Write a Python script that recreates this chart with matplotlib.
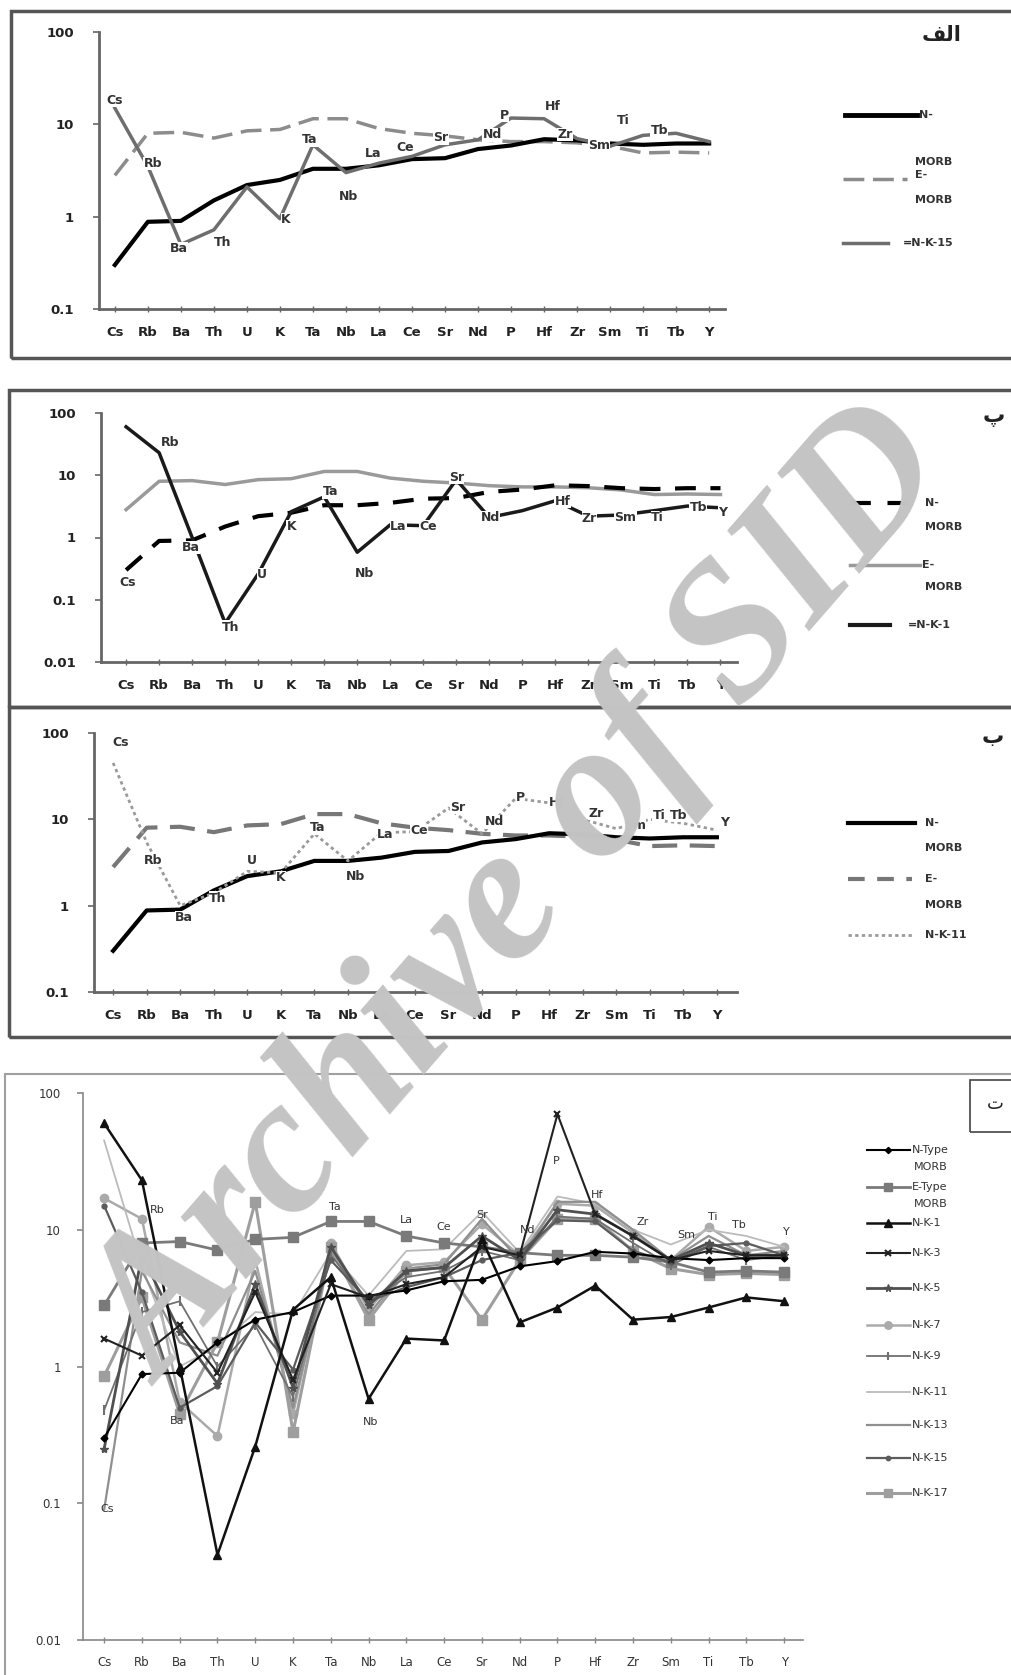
import matplotlib
matplotlib.use('Agg')
import matplotlib.pyplot as plt
import matplotlib.ticker as mticker
from matplotlib.lines import Line2D
from matplotlib.patches import Rectangle
import numpy as np

W, H = 1011, 1675

elements = ['Cs', 'Rb', 'Ba', 'Th', 'U', 'K', 'Ta', 'Nb', 'La', 'Ce',
            'Sr', 'Nd', 'P', 'Hf', 'Zr', 'Sm', 'Ti', 'Tb', 'Y']

# reference basalts
n_morb = [0.30, 0.88, 0.90, 1.5, 2.2, 2.5, 3.3, 3.3, 3.6, 4.2,
          4.3, 5.4, 5.9, 6.9, 6.7, 6.2, 6.0, 6.2, 6.2]
e_morb = [2.8, 8.0, 8.2, 7.1, 8.5, 8.8, 11.5, 11.5, 9.0, 8.0,
          7.5, 6.8, 6.5, 6.5, 6.3, 5.8, 4.9, 5.0, 4.9]

# samples
nk1 = [60, 23, 1.0, 0.042, 0.26, 2.6, 4.5, 0.58, 1.6, 1.55,
       8.5, 2.1, 2.7, 3.9, 2.2, 2.3, 2.7, 3.2, 3.0]
nk3 = [1.6, 1.2, 2.0, 0.9, 3.5, 0.8, 4.0, 3.2, 4.0, 4.5,
       7.5, 6.5, 70, 13, 9.0, 6.0, 7.0, 6.5, 6.5]
nk5 = [0.25, 6.5, 1.8, 0.75, 4.0, 0.7, 7.5, 2.8, 5.0, 5.3,
       9.0, 6.0, 14, 13, 9.0, 6.0, 8.0, 6.5, 6.5]
nk7 = [17, 12, 0.55, 0.31, 6.0, 0.45, 8.0, 2.6, 5.5, 5.8,
       11, 6.5, 15.5, 15, 9.5, 6.0, 10.5, 7.0, 7.5]
nk9 = [0.48, 2.5, 3.0, 1.0, 2.0, 0.6, 6.5, 3.0, 4.5, 5.0,
       7.0, 6.0, 12.5, 12, 8.0, 5.5, 7.5, 6.0, 6.5]
nk11 = [45, 5.4, 1.0, 1.4, 2.5, 2.4, 6.8, 3.3, 7.0, 7.2,
        13.5, 6.8, 17.5, 15.5, 10.0, 7.8, 10.0, 9.0, 7.5]
nk13 = [0.09, 5.0, 1.5, 1.2, 5.0, 0.5, 7.0, 2.4, 5.2, 5.6,
        12, 6.0, 16, 16, 10, 6.0, 9.0, 6.5, 7.0]
nk15 = [15, 3.5, 0.5, 0.72, 2.1, 0.95, 6.0, 3.0, 3.8, 4.5,
        6.0, 6.8, 11.7, 11.5, 7.0, 5.8, 7.6, 8.0, 6.5]
nk17 = [0.85, 3.2, 0.45, 1.5, 16, 0.33, 7.5, 2.2, 5.0, 5.3,
        2.2, 6.0, 12, 12, 7.0, 5.2, 4.7, 4.8, 4.7]

x = np.arange(len(elements))

fig = plt.figure(figsize=(W / 100, H / 100), dpi=100)


def fx(px):
    return px / W


def fy(py):
    return 1 - py / H


def make_axes(left, top, right, bottom, xlim, ylim, yticks, ylabels,
              font, axis_color, axis_lw, xpad, ypad):
    ax = fig.add_axes([fx(left), fy(bottom), (right - left) / W, (bottom - top) / H])
    ax.patch.set_alpha(0)
    ax.set_yscale('log')
    ax.set_xlim(*xlim)
    ax.set_ylim(*ylim)
    ax.set_yticks(yticks)
    ax.set_yticklabels(ylabels, **font)
    ax.yaxis.set_minor_locator(mticker.NullLocator())
    ax.set_xticks(x)
    ax.set_xticklabels(elements, **font)
    for s in ['top', 'right']:
        ax.spines[s].set_visible(False)
    for s in ['left', 'bottom']:
        ax.spines[s].set_color(axis_color)
        ax.spines[s].set_linewidth(axis_lw)
    ax.tick_params(axis='x', direction='inout', length=5, width=1,
                   color=axis_color, pad=xpad)
    ax.tick_params(axis='y', direction='out', length=4, width=1.2,
                   color=axis_color, pad=ypad)
    return ax


def tag(ax, values, name, dx, dy, size=9, box=True):
    i = elements.index(name)
    kw = dict(bbox=dict(fc='white', ec='none', pad=0.2)) if box else {}
    ax.annotate(name, (i, values[i]), xytext=(dx * 0.72, -dy * 0.72),
                textcoords='offset points', ha='center', va='center',
                fontsize=size, fontweight='bold', color='#333333',
                zorder=5, **kw)


def frame(left, top, right, bottom, color, lw):
    fig.add_artist(Rectangle((fx(left), fy(bottom)), (right - left) / W,
                             (bottom - top) / H, transform=fig.transFigure,
                             fill=False, edgecolor=color, linewidth=lw))


def key_line(x0, x1, y, **kw):
    fig.add_artist(Line2D([fx(x0), fx(x1)], [fy(y), fy(y)],
                          transform=fig.transFigure, **kw))


def key_text(xp, yp, s, size=8, weight='bold'):
    fig.text(fx(xp), fy(yp), s, fontsize=size, fontweight=weight,
             color='#333333', ha='left', va='center')


bold9 = dict(fontsize=9.5, fontweight='bold', color='#222222')
norm8 = dict(fontsize=8.5, color='#333333')

# ---- panel 1 (الف) ----
frame(11, 11, 1015, 358, '#555555', 2.5)
ax1 = make_axes(99, 32, 725, 309, (-0.48, 18.48), (0.1, 100),
                [0.1, 1, 10, 100], ['0.1', '1', '10', '100'],
                bold9, '#666666', 2, 10, 14)
ax1.plot(x, e_morb, color='#8c8c8c', lw=2.5, dashes=(6, 2.5), zorder=2)
ax1.plot(x, n_morb, color='black', lw=3, zorder=3)
ax1.plot(x, nk15, color='#6e6e6e', lw=2.5, zorder=3)
for name, dx, dy in [('Cs', 0, -8), ('Rb', 5, -3), ('Ba', -2, 4), ('Th', 9, 13),
                     ('K', 6, 1), ('Ta', -3, -5), ('Nb', 3, 24), ('La', -6, -10),
                     ('Ce', -7, -9), ('Sr', -4, -7), ('Nd', 14, -5), ('P', -7, -3),
                     ('Hf', 9, -12), ('Zr', -12, -4), ('Sm', -11, -1),
                     ('Ti', -20, -15), ('Tb', -17, -3)]:
    tag(ax1, nk15, name, dx, dy)
key_line(845, 917, 115, color='black', lw=3.5)
key_text(919, 115, 'N-')
key_text(915, 162, 'MORB')
key_line(843, 907, 179, color='#8c8c8c', lw=2.5, dashes=(6, 2.5))
key_text(915, 175, 'E-')
key_text(915, 200, 'MORB')
key_line(843, 888, 243, color='#6e6e6e', lw=2.5)
key_text(903, 243, '=N-K-15')
fig.text(fx(942), fy(35), '\uFED2\uFEDF\uFE8D', fontsize=15, fontweight='bold',
         color='#222222', ha='center', va='center', family='DejaVu Sans')

# ---- panel 2 (پ) ----
frame(9, 390, 1015, 707, '#555555', 2.5)
ax2 = make_axes(101, 413, 737, 662, (-0.76, 18.5), (0.01, 100),
                [0.01, 0.1, 1, 10, 100], ['0.01', '0.1', '1', '10', '100'],
                bold9, '#666666', 2, 10, 14)
ax2.plot(x, e_morb, color='#9a9a9a', lw=2.5, zorder=2)
ax2.plot(x, n_morb, color='black', lw=3, dashes=(5, 3.5), zorder=3)
ax2.plot(x, nk1, color='#1a1a1a', lw=2.5, zorder=3)
tag(ax2, n_morb, 'Cs', 2, 12)
for name, dx, dy in [('Rb', 11, -10), ('Ba', -1, 10), ('Th', 5, 4), ('U', 4, 1),
                     ('K', 0, 15), ('Ta', 6, -5), ('Nb', 7, 21), ('La', 8, 2),
                     ('Ce', 5, 1), ('Sr', 0, -2), ('Nd', 1, 0), ('Hf', 7, 1),
                     ('Zr', 1, 2), ('Sm', 4, 3), ('Ti', 3, 7), ('Tb', 11, 1),
                     ('Y', 2, 5)]:
    tag(ax2, nk1, name, dx, dy)
key_line(850, 913, 503, color='black', lw=3, dashes=(5, 4))
key_text(925, 503, 'N-')
key_text(925, 527, 'MORB')
key_line(850, 920, 565, color='#9a9a9a', lw=2.5)
key_text(922, 565, 'E-')
key_text(925, 587, 'MORB')
key_line(850, 890, 625, color='#1a1a1a', lw=3)
key_text(908, 625, '=N-K-1')
fig.text(fx(994), fy(417), '\u067E', fontsize=16, fontweight='bold',
         color='#222222', ha='center', va='center', family='DejaVu Sans')

# ---- panel 3 (ب) ----
frame(9, 707, 1015, 1037, '#555555', 2.5)
ax3 = make_axes(94, 733, 737, 992, (-0.57, 18.6), (0.1, 100),
                [0.1, 1, 10, 100], ['0.1', '1', '10', '100'],
                bold9, '#666666', 2, 10, 14)
ax3.plot(x, e_morb, color='#777777', lw=3, dashes=(6, 3), zorder=2)
ax3.plot(x, n_morb, color='black', lw=3, zorder=3)
ax3.plot(x, nk11, color='#9a9a9a', lw=2, dashes=(1.2, 1.2), zorder=3)
for name, dx, dy in [('Cs', 8, -20), ('Rb', 6, 18), ('Ba', 4, 12), ('Th', 4, 5),
                     ('U', 5, -11), ('K', 0, 5), ('Ta', 3, -6), ('Nb', 8, 16),
                     ('La', 4, 2), ('Ce', 4, -1), ('Sr', 9, -1), ('Nd', 12, -12),
                     ('P', 5, -1), ('Hf', 8, 0), ('Zr', 13, -6), ('Sm', 19, -3),
                     ('Ti', 9, -4), ('Tb', -5, -8), ('Y', 8, -8)]:
    tag(ax3, nk11, name, dx, dy)
key_line(848, 915, 823, color='black', lw=3)
key_text(925, 823, 'N-')
key_text(925, 848, 'MORB')
key_line(848, 912, 879, color='#777777', lw=3, dashes=(4, 3))
key_text(925, 879, 'E-')
key_text(925, 905, 'MORB')
key_line(848, 912, 935, color='#9a9a9a', lw=2, dashes=(1.2, 1.2))
key_text(925, 935, 'N-K-11')
fig.text(fx(993), fy(737), '\u0628', fontsize=16, fontweight='bold',
         color='#222222', ha='center', va='center', family='DejaVu Sans')

# ---- panel 4 (ت) ----
frame(5, 1074, 1015, 1680, '#a0a0a0', 1.5)
ax4 = make_axes(83, 1093, 803, 1640, (-0.56, 18.5), (0.01, 100),
                [0.01, 0.1, 1, 10, 100], ['0.01', '0.1', '1', '10', '100'],
                norm8, '#888888', 1.2, 9, 12)

series4 = [
    ('N-Type\nMORB', n_morb, dict(color='black', lw=1.5, marker='D', ms=3.5), 6),
    ('E-Type\nMORB', e_morb, dict(color='#7a7a7a', lw=2, marker='s', ms=7), 4),
    ('N-K-1', nk1, dict(color='#111111', lw=1.8, marker='^', ms=6), 7),
    ('N-K-3', nk3, dict(color='#222222', lw=1.5, marker='x', ms=5, mew=1.5), 6),
    ('N-K-5', nk5, dict(color='#505050', lw=2, marker='*', ms=6), 5),
    ('N-K-7', nk7, dict(color='#aaaaaa', lw=1.8, marker='o', ms=6), 3),
    ('N-K-9', nk9, dict(color='#707070', lw=1.3, marker='|', ms=7, mew=1.5), 4),
    ('N-K-11', nk11, dict(color='#bbbbbb', lw=1.3), 3),
    ('N-K-13', nk13, dict(color='#8f8f8f', lw=1.6), 3),
    ('N-K-15', nk15, dict(color='#5c5c5c', lw=1.6, marker='o', ms=3.5), 4),
    ('N-K-17', nk17, dict(color='#9e9e9e', lw=2.2, marker='s', ms=7), 3),
]
for label, vals, st, z in series4:
    ax4.plot(x, vals, zorder=z, **st)

for name, xi, yv in [('Cs', 0.08, 0.091), ('Rb', 1.4, 14), ('Ba', 1.93, 0.40),
                     ('U', 4.18, 21), ('Ta', 6.1, 14.7), ('Nb', 7.04, 0.39),
                     ('La', 8.0, 11.8), ('Ce', 9.0, 10.5), ('Sr', 10.0, 12.8),
                     ('Nd', 11.2, 10), ('P', 11.98, 32), ('Hf', 13.06, 18),
                     ('Zr', 14.26, 11.4), ('Sm', 15.4, 9.2), ('Ti', 16.1, 12.4),
                     ('Tb', 16.8, 10.9), ('Y', 18.07, 9.7)]:
    ax4.text(xi, yv, name, fontsize=8, color='#333333', ha='center',
             va='center', zorder=8)

key_y = [1150, 1187, 1223, 1253, 1288, 1325, 1356, 1392, 1425, 1458, 1493]
for (label, vals, st, z), yk in zip(series4, key_y):
    line_kw = {k: v for k, v in st.items() if k in ('color', 'lw')}
    key_line(867, 910, yk, **line_kw)
    if 'marker' in st:
        fig.add_artist(Line2D([fx(888)], [fy(yk)], transform=fig.transFigure,
                              color=st['color'], marker=st['marker'],
                              ms=st['ms'] * 0.9, mew=st.get('mew', 1),
                              linestyle='none'))
    parts = label.split('\n')
    key_text(912, yk, parts[0], size=8, weight='normal')
    if len(parts) > 1:
        key_text(914, yk + 17, parts[1], size=8, weight='normal')

frame(970, 1080, 1015, 1132, '#444444', 1.2)
fig.text(fx(995), fy(1104), '\u062A', fontsize=13, color='#222222',
         ha='center', va='center', family='DejaVu Sans')

# watermark across the sheet
fig.text(fx(524), fy(900), 'Archive of SID', fontsize=140, fontweight='bold',
         fontstyle='italic', family='Liberation Serif', color='#c4c4c4',
         rotation=49, rotation_mode='anchor', ha='center', va='center',
         zorder=20)

fig.savefig('out.png', dpi=100, facecolor='white')
